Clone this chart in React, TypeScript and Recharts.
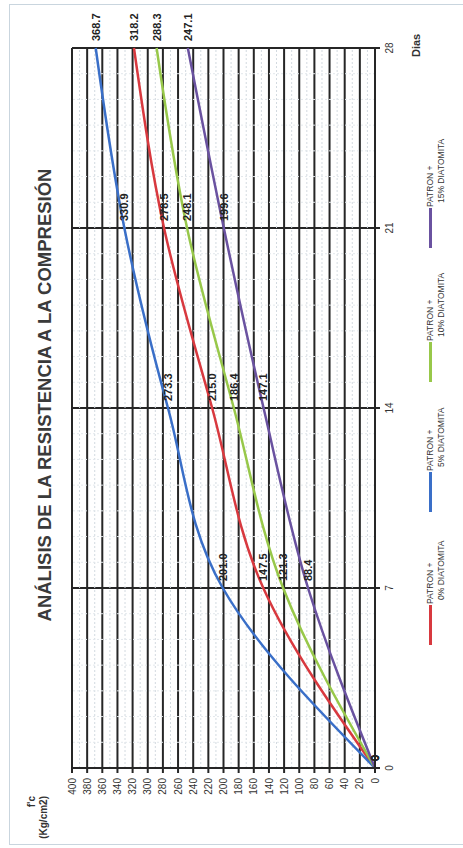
import React from 'react';
import { LineChart, Line, XAxis, YAxis, CartesianGrid, ReferenceLine, LabelList } from 'recharts';

const days = [0, 7, 14, 21, 28];
const patron0 = [0, 147.5, 215.0, 278.5, 318.2];
const patron5 = [0, 201.0, 273.3, 330.9, 368.7];
const patron10 = [0, 121.3, 186.4, 248.1, 288.3];
const patron15 = [0, 88.4, 147.1, 199.6, 247.1];

const yTicks = [0, 20, 40, 60, 80, 100, 120, 140, 160, 180, 200, 220, 240, 260, 280, 300, 320, 340, 360, 380, 400];
const yMinor = [10, 30, 50, 70, 90, 110, 130, 150, 170, 190, 210, 230, 250, 270, 290, 310, 330, 350, 370, 390];
const xMinor = [1, 2, 3, 4, 5, 6, 8, 9, 10, 11, 12, 13, 15, 16, 17, 18, 19, 20, 22, 23, 24, 25, 26, 27];

const seriesKeys = ['p0', 'p5', 'p10', 'p15'];
const seriesLine1 = ['PATRON +', 'PATRON +', 'PATRON +', 'PATRON +'];
const seriesLine2 = ['0% DIATOMITA', '5% DIATOMITA', '10% DIATOMITA', '15% DIATOMITA'];
const seriesColors = ['#d8393f', '#3a6fc8', '#98c84a', '#6a52a0'];
const legendX = [243, 376, 506, 640];

const data = days.map((d, i) => ({
  dia: d,
  p0: patron0[i],
  p5: patron5[i],
  p10: patron10[i],
  p15: patron15[i],
}));

const FONT = '"Liberation Sans", Arial, sans-serif';

const fmt = (v: any) => (Number(v) === 0 ? '0' : Number(v).toFixed(1));

export default function App() {
  return (
    <div style={{ position: 'fixed', left: 0, top: 0, width: 463, height: 848, background: '#fff', overflow: 'hidden', fontFamily: FONT }}>
      <div
        style={{
          position: 'absolute',
          left: 0,
          top: 848,
          width: 848,
          height: 463,
          transform: 'rotate(-90deg)',
          transformOrigin: '0 0',
          background: '#fff',
        }}
      >
        <div style={{ position: 'absolute', left: 3, top: 9, width: 841, height: 470, border: '1.5px solid #c9d5de', boxSizing: 'border-box' }} />
        <div
          style={{
            position: 'absolute',
            left: 153,
            top: 35,
            width: 600,
            textAlign: 'center',
            fontSize: 18.5,
            lineHeight: '20px',
            fontWeight: 'bold',
            color: '#3a3a3a',
            whiteSpace: 'nowrap',
          }}
        >
          ANÁLISIS DE LA RESISTENCIA A LA COMPRESIÓN
        </div>
        <div
          style={{
            position: 'absolute',
            left: 0,
            top: 26,
            width: 52,
            textAlign: 'right',
            fontSize: 10,
            lineHeight: '12px',
            fontWeight: 'bold',
            color: '#333',
          }}
        >
          <div>f'c</div>
          <div>(Kg/cm2)</div>
        </div>
        <div style={{ position: 'absolute', left: 791, top: 410, fontSize: 11, fontWeight: 'bold', color: '#333' }}>Dias</div>
        {seriesKeys.map((k, i) => (
          <div key={k}>
            <div style={{ position: 'absolute', left: legendX[i] - 40, top: 429, width: 40, height: 2.5, background: seriesColors[i] }} />
            <div style={{ position: 'absolute', left: legendX[i] + 1, top: 425, fontSize: 8.5, lineHeight: '11px', color: '#333', whiteSpace: 'nowrap' }}>
              <div>{seriesLine1[i]}</div>
              <div style={{ paddingLeft: 4 }}>{seriesLine2[i]}</div>
            </div>
          </div>
        ))}
        <div style={{ position: 'absolute', left: 0, top: 0 }}>
          <LineChart width={848} height={463} data={data} margin={{ top: 72, right: 48, bottom: 58, left: 40 }}>
            {yMinor.map((v) => (
              <ReferenceLine key={'ym' + v} y={v} stroke="#d3dae0" strokeDasharray="2 2" strokeWidth={1} />
            ))}
            {xMinor.map((v) => (
              <ReferenceLine key={'xm' + v} x={v} stroke="#e3e8ec" strokeDasharray="2 2" strokeWidth={1} />
            ))}
            <CartesianGrid stroke="#262626" strokeWidth={2} />
            <XAxis
              dataKey="dia"
              type="number"
              domain={[0, 28]}
              ticks={days}
              interval={0}
              height={30}
              tickSize={5}
              tickMargin={6}
              stroke="#262626"
              strokeWidth={2}
              tick={{ fontSize: 10, fill: '#333', fontFamily: FONT }}
            />
            <YAxis
              type="number"
              domain={[0, 400]}
              ticks={yTicks}
              interval={0}
              width={40}
              tickSize={5}
              tickMargin={5}
              stroke="#262626"
              strokeWidth={2}
              tick={{ fontSize: 10, fill: '#333', fontFamily: FONT }}
            />
            {seriesKeys.map((k, i) => (
              <Line
                key={k}
                dataKey={k}
                type="monotone"
                stroke={seriesColors[i]}
                strokeWidth={2.5}
                dot={false}
                isAnimationActive={false}
              >
                <LabelList
                  dataKey={k}
                  position="right"
                  offset={7}
                  formatter={fmt}
                  style={{ fontSize: 11, fontWeight: 'bold', fill: '#222', fontFamily: FONT }}
                />
              </Line>
            ))}
          </LineChart>
        </div>
      </div>
    </div>
  );
}
